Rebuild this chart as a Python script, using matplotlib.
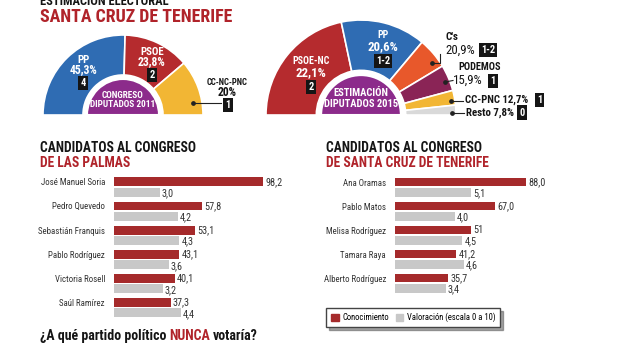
import matplotlib
matplotlib.use("Agg")
import matplotlib.pyplot as plt
from matplotlib import font_manager as fm
from matplotlib.lines import Line2D
from matplotlib.patches import Patch

W, H = 624, 351

# pick a narrow face if one is installed, otherwise a compact one
have = {(f.name, f.stretch) for f in fm.fontManager.ttflist}
names = {n for n, _ in have}
FAMILY, STRETCH = 'DejaVu Sans', 'normal'
for cand in ['Roboto Condensed', 'Liberation Sans Narrow', 'Open Sans Condensed', 'Arial Narrow']:
    if cand in names:
        FAMILY = cand
        break
else:
    if ('DejaVu Sans', 'condensed') in have or ('DejaVu Sans', 'semi-condensed') in have:
        FAMILY, STRETCH = 'DejaVu Sans', 'condensed'
    elif 'Roboto' in names:
        FAMILY = 'Roboto'
plt.rcParams['font.family'] = [FAMILY, 'DejaVu Sans']
plt.rcParams['font.stretch'] = STRETCH

# --- data -------------------------------------------------------------
parties_2011 = ['PP', 'PSOE', 'CC-NC-PNC']
vote_2011 = [45.3, 23.8, 20.0]
seats_2011 = ['4', '2', '1']

parties_2015 = ['PSOE-NC', 'PP', "C's", 'PODEMOS', 'CC-PNC', 'Resto']
vote_2015 = [22.1, 20.6, 20.9, 15.9, 12.7, 7.8]
seats_2015 = ['2', '1-2', '1-2', '1', '1', '0']
# the 2015 half ring is not drawn in proportion: arc of each slice (deg)
arc_2015 = [78, 52, 19, 16, 9, 6]

cand_lp = ['José Manuel Soria', 'Pedro Quevedo', 'Sebastián Franquis',
           'Pablo Rodríguez', 'Victoria Rosell', 'Saúl Ramírez']
conoc_lp = [98.2, 57.8, 53.1, 43.1, 40.1, 37.3]
valor_lp = [3.0, 4.2, 4.3, 3.6, 3.2, 4.4]

cand_tf = ['Ana Oramas', 'Pablo Matos', 'Melisa Rodríguez', 'Tamara Raya',
           'Alberto Rodríguez']
conoc_tf = [88.0, 67.0, 51, 41.2, 35.7]
valor_tf = [5.1, 4.0, 4.5, 4.6, 3.4]

# --- colours ----------------------------------------------------------
RED_T = '#b0232a'
BAR_RED = '#a52a2b'
BAR_GREY = '#c8c8c8'
PURPLE = '#8c2b8b'
INK = '#151515'
col_2011 = ['#2f6cb3', '#b52b2e', '#f2b634']
col_2015 = ['#b52b2e', '#2f6cb3', '#e8582b', '#8a2456', '#f2b634', '#d9d9d9']

fig = plt.figure(figsize=(W / 100, H / 100), dpi=100)
rend = fig.canvas.get_renderer()


def size_for(s, width, weight='bold'):
    # font size that makes s about `width` pixels wide
    t = fig.text(0, 0, s, fontsize=10, weight=weight)
    w = t.get_window_extent(rend).width
    t.remove()
    return 10 * width / w


def put(x, y, s, w=None, **kw):
    kw.setdefault('ha', 'center')
    kw.setdefault('va', 'center')
    kw.setdefault('weight', 'bold')
    kw.setdefault('color', INK)
    if w is not None:
        kw['fontsize'] = size_for(s, w, kw['weight'])
    return fig.text(x / W, 1 - y / H, s, **kw)


def line(xs, ys, **kw):
    fig.add_artist(Line2D([x / W for x in xs], [1 - y / H for y in ys],
                          transform=fig.transFigure, color='#222222', lw=0.8, **kw))


def dot(x, y):
    line([x], [y], marker='o', ms=2.4, ls='none')


def seat_box(x, y, s, fs=7.5):
    put(x, y, s, color='white', fontsize=fs,
        bbox=dict(boxstyle='square,pad=0.22', fc='#151515', ec='none'))


def comma(v):
    return str(v).replace('.', ',')


def half_ring(cx, cy, r, values, colors, hole, inner, label, fs):
    ax = fig.add_axes([(cx - r) / W, 1 - (cy + r) / H, 2 * r / W, 2 * r / H])
    wedges, _ = ax.pie(list(values) + [sum(values)], colors=list(colors) + ['none'],
                       startangle=180, counterclock=False, radius=1,
                       wedgeprops=dict(width=1 - hole, edgecolor='white', linewidth=1.2))
    wedges[-1].set_visible(False)
    inn, _ = ax.pie([1, 1], colors=[PURPLE, 'none'], startangle=0, radius=inner,
                    wedgeprops=dict(edgecolor='white', linewidth=1.5))
    inn[-1].set_visible(False)
    ax.set_xlim(-1, 1)
    ax.set_ylim(-1, 1)
    ax.axis('off')
    ax.text(0, inner * 0.42, label, ha='center', va='center', color='white',
            fontsize=fs, weight='bold', linespacing=1.1)
    return ax


# --- title --------------------------------------------------------------
put(40, 1.5, 'ESTIMACIÓN ELECTORAL', w=128, ha='left')
put(40, 16.5, 'SANTA CRUZ DE TENERIFE', w=192, ha='left', color=RED_T)

# --- 2011 half ring -----------------------------------------------------
half_ring(123, 115, 80, vote_2011, col_2011, 0.5, 0.45, 'CONGRESO\nDIPUTADOS 2011',
          size_for('DIPUTADOS 2011', 66))
fs_pct = size_for('45,3%', 28)
fs_name = size_for('PSOE', 24)
for (x, y), p, v, s in zip([(83, 60), (152, 52)], parties_2011[:2], vote_2011[:2], seats_2011[:2]):
    put(x, y, p, color='white', fontsize=fs_name)
    put(x, y + 10, comma(v) + '%', color='white', fontsize=fs_pct)
    seat_box(x, y + 23, s)
put(227, 82.5, parties_2011[2], w=41)
put(227, 92.5, '%g%%' % vote_2011[2], fontsize=fs_pct)
seat_box(228, 105, seats_2011[2])
dot(193, 103)
line([193, 221], [103, 103])

# --- 2015 half ring -----------------------------------------------------
half_ring(361, 115, 95, arc_2015, col_2015, 0.47, 0.42, 'ESTIMACIÓN\nDIPUTADOS 2015',
          size_for('DIPUTADOS 2015', 74))
fs_pct2 = size_for('22,1%', 31)
for (x, y), p, v, s in zip([(311, 61), (383, 35)], parties_2015[:2], vote_2015[:2], seats_2015[:2]):
    put(x, y, p, color='white', fontsize=size_for('PSOE-NC', 37))
    put(x, y + 11.5, comma(v) + '%', color='white', fontsize=fs_pct2)
    seat_box(x, y + 26, s)

# C's
put(445, 37, parties_2015[2], ha='left', fontsize=size_for('PSOE', 24))
put(445, 50, comma(vote_2015[2]) + '%', ha='left', fontsize=fs_pct2, weight='normal')
seat_box(488, 50, seats_2015[2])
dot(432, 63)
line([432, 440, 440], [63, 63, 54])
# Podemos
put(458, 67, parties_2015[3], w=42, ha='left')
put(453, 80, comma(vote_2015[3]) + '%', ha='left', fontsize=fs_pct2, weight='normal')
seat_box(493, 81, seats_2015[3])
dot(445, 82)
line([445, 453], [82, 80.5])
# CC-PNC
put(465, 100, parties_2015[4] + ' ' + comma(vote_2015[4]) + '%', w=63, ha='left')
seat_box(539.5, 100, seats_2015[4])
dot(451, 101)
line([451, 463], [101, 101])
# Resto
put(466, 113, parties_2015[5] + ' ' + comma(vote_2015[5]) + '%', w=48, ha='left')
seat_box(522, 112.5, seats_2015[5])
dot(452, 113)
line([452, 464], [113, 113])

# --- candidate bars -----------------------------------------------------
fs_cand = size_for('Sebastián Franquis', 67, 'normal')
fs_val = size_for('98,2', 17, 'normal')


def bars(left, top, scale, names, conoc, valor, row=24.0):
    n = len(names)
    ax = fig.add_axes([left / W, 1 - (top + n * row) / H, 100 * scale / W, n * row / H])
    ys = list(range(n))
    off, h = 0.215, 0.37
    ax.barh([y - off for y in ys], conoc, height=h, color=BAR_RED)
    ax.barh([y + off for y in ys], [v * 10 for v in valor], height=h, color=BAR_GREY)
    for y, c, v in zip(ys, conoc, valor):
        ax.text(c + 1.5, y - off, comma(c), va='center', fontsize=fs_val, color='#333333')
        ax.text(v * 10 + 1.5, y + off + 0.05, comma(v), va='center', fontsize=fs_val, color='#333333')
    ax.set_xlim(0, 100)
    ax.set_ylim(n - 0.5, -0.5)
    ax.set_yticks([y - off for y in ys])
    ax.set_yticklabels(names, fontsize=fs_cand, color='#333333')
    ax.tick_params(left=False, bottom=False, labelbottom=False, pad=3)
    ax.set_xticks([])
    for s in ax.spines.values():
        s.set_visible(False)
    ax.patch.set_alpha(0)
    return ax


bars(114, 175, 1.517, cand_lp, conoc_lp, valor_lp, row=24.1)
bars(395, 175.2, 1.49, cand_tf, conoc_tf, valor_tf, row=24.0)

fs_head = size_for('CANDIDATOS AL CONGRESO', 156)
put(40, 148, 'CANDIDATOS AL CONGRESO', ha='left', fontsize=fs_head)
put(40, 163, 'DE LAS PALMAS', ha='left', fontsize=fs_head, color=RED_T)
put(326, 148, 'CANDIDATOS AL CONGRESO', ha='left', fontsize=fs_head)
put(326, 163, 'DE SANTA CRUZ DE TENERIFE', ha='left', fontsize=fs_head, color=RED_T)

# legend
fig.legend(handles=[Patch(color=BAR_RED, label='Conocimiento'),
                    Patch(color=BAR_GREY, label='Valoración (escala 0 a 10)')],
           loc='upper left', bbox_to_anchor=(326 / W, 1 - 308 / H), ncol=2,
           prop=dict(size=size_for('Valoración (escala 0 a 10)', 89, 'normal')),
           frameon=True, fancybox=False, shadow=True, edgecolor='#444444',
           handlelength=0.9, handleheight=0.9, handletextpad=0.4, columnspacing=0.8,
           borderpad=0.55, borderaxespad=0)

# bottom question, three coloured pieces
fs_q = size_for('¿A qué partido político NUNCA votaría?', 218)
x = 40
for piece, col in [('¿A qué partido político', INK), ('NUNCA', RED_T), ('votaría?', INK)]:
    t = put(x, 336, piece, ha='left', fontsize=fs_q, color=col)
    x += t.get_window_extent(rend).width + fs_q * 0.3

fig.savefig('out.png', dpi=100, facecolor='white')
